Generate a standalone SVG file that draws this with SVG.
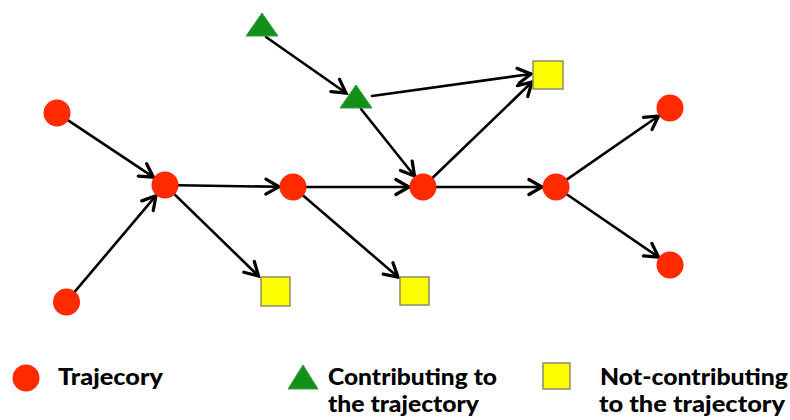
<svg xmlns="http://www.w3.org/2000/svg" width="790" height="420" viewBox="0 0 790 420">
  <style>
    .traj { fill: #ff2a00; }
    .contrib { fill: #12901a; stroke: #3a9a40; stroke-width: 1; stroke-linejoin: round; }
    .noncontrib { fill: #ffff00; stroke: #8c8c6a; stroke-width: 1.5; }
    .edge { stroke: #000; stroke-width: 2.6; fill: none; stroke-linecap: round; marker-end: url(#arrow); }
    .label { font-family: Lato, "Open Sans", "Liberation Sans", sans-serif; font-weight: 900; font-size: 22px; fill: #000; }
  </style>
  <defs>
    <marker id="arrow" markerUnits="userSpaceOnUse" markerWidth="20" markerHeight="20" refX="0" refY="0" viewBox="-12 -8 14 16" orient="auto" overflow="visible">
      <path d="M -10.5 -6 L 0 0 L -10.5 6" fill="none" stroke="#000" stroke-width="2.6" stroke-linecap="round" stroke-linejoin="miter"/>
    </marker>
  </defs>

  <rect width="790" height="420" fill="#fff"/>

  <!-- connectors -->
  <g id="connectors">
    <line class="edge" x1="67.8" y1="120.2" x2="153.4" y2="177.2"/>
    <line class="edge" x1="74.4" y1="292.1" x2="156" y2="195.7"/>
    <line class="edge" x1="178" y1="185.2" x2="279" y2="186.8"/>
    <line class="edge" x1="174.3" y1="194.1" x2="258.5" y2="276"/>
    <line class="edge" x1="306" y1="187" x2="409" y2="187"/>
    <line class="edge" x1="302.5" y1="195" x2="398" y2="277"/>
    <line class="edge" x1="266" y1="37" x2="346" y2="93"/>
    <line class="edge" x1="372" y1="96" x2="531" y2="74"/>
    <line class="edge" x1="361" y1="109" x2="414.5" y2="176"/>
    <line class="edge" x1="432.4" y1="178" x2="532" y2="82"/>
    <line class="edge" x1="436" y1="187" x2="542" y2="187"/>
    <line class="edge" x1="566.7" y1="179.6" x2="658.5" y2="116"/>
    <line class="edge" x1="566.7" y1="194.3" x2="658.5" y2="257.1"/>
  </g>

  <!-- trajectory nodes -->
  <g id="nodeA"><circle class="traj" cx="57" cy="113" r="13.5"/></g>
  <g id="nodeB"><circle class="traj" cx="66.5" cy="302" r="13.5"/></g>
  <g id="nodeC"><circle class="traj" cx="165" cy="185" r="13.5"/></g>
  <g id="nodeD"><circle class="traj" cx="293" cy="187" r="13.5"/></g>
  <g id="nodeE"><circle class="traj" cx="423" cy="187" r="13.5"/></g>
  <g id="nodeF"><circle class="traj" cx="556" cy="187" r="13.5"/></g>
  <g id="nodeG"><circle class="traj" cx="670" cy="108" r="13.5"/></g>
  <g id="nodeH"><circle class="traj" cx="670" cy="265" r="13.5"/></g>

  <!-- contributing nodes -->
  <g id="nodeT1"><polygon class="contrib" points="262,13 278,36 246,36"/></g>
  <g id="nodeT2"><polygon class="contrib" points="356,85 372,108 340,108"/></g>

  <!-- non-contributing nodes -->
  <g id="nodeS1"><rect class="noncontrib" x="533" y="61" width="30" height="28"/></g>
  <g id="nodeS2"><rect class="noncontrib" x="261" y="277" width="29" height="29"/></g>
  <g id="nodeS3"><rect class="noncontrib" x="400" y="277" width="29" height="28"/></g>

  <!-- legend -->
  <g id="legend-trajectory">
    <circle class="traj" cx="26" cy="378" r="13.5"/>
    <text class="label" x="58" y="385" textLength="105" lengthAdjust="spacingAndGlyphs">Trajecory</text>
  </g>
  <g id="legend-contributing">
    <polygon class="contrib" points="303,365 318,389 288,389"/>
    <text class="label" x="328" y="385" textLength="169" lengthAdjust="spacingAndGlyphs">Contributing to</text>
    <text class="label" x="328" y="412" textLength="151" lengthAdjust="spacingAndGlyphs">the trajectory</text>
  </g>
  <g id="legend-noncontributing">
    <rect class="noncontrib" x="543" y="363" width="27" height="26"/>
    <text class="label" x="600" y="385" textLength="188" lengthAdjust="spacingAndGlyphs">Not-contributing</text>
    <text class="label" x="599" y="412" textLength="186" lengthAdjust="spacingAndGlyphs">to the trajectory</text>
  </g>
</svg>
